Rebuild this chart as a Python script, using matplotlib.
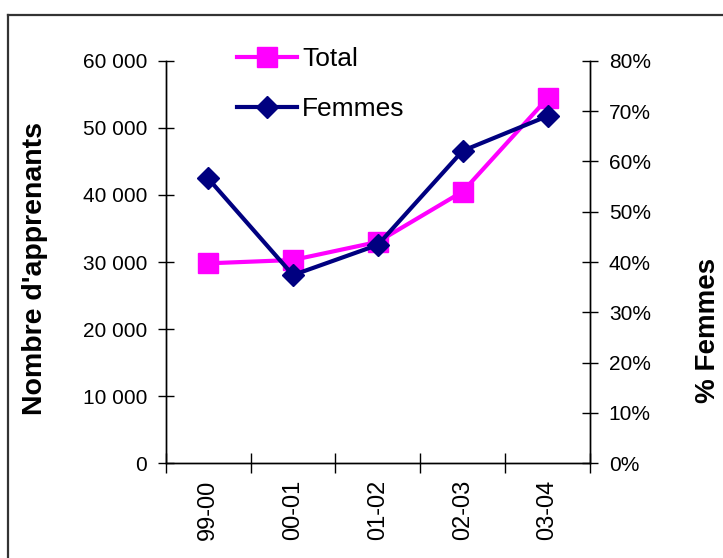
import numpy as np
import matplotlib
matplotlib.use('Agg')
from matplotlib import pyplot as plt
from matplotlib.lines import Line2D

plt.rcParams['font.family'] = ['Liberation Sans', 'DejaVu Sans']

# data
years = ['99-00', '00-01', '01-02', '02-03', '03-04']
total = [29800, 30300, 33000, 40500, 54400]
femmes_pct = [56.6, 37.4, 43.4, 62.1, 69.0]

W, H = 723, 558
fig = plt.figure(figsize=(W / 100, H / 100), dpi=100)
fig.patch.set_facecolor('white')

# axes box in pixels
x0, x1 = 165.7, 590
y0, y1 = 60.7, 463.3
ax = fig.add_axes([x0 / W, 1 - y1 / H, (x1 - x0) / W, (y1 - y0) / H])
ax2 = ax.twinx()

x = np.arange(len(years))
ax.plot(x, total, color='#FF00FF', lw=3, marker='s', ms=14.5,
        mec='#FF00FF', mfc='#FF00FF', label='Total', clip_on=False)
ax2.plot(x, femmes_pct, color='#000080', lw=3, marker='D', ms=11,
         mec='#000080', mfc='#000080', label='Femmes', clip_on=False)

ax.set_xlim(-0.5, len(years) - 0.5)
ax.set_ylim(0, 60000)
ax2.set_ylim(0, 80)

ax.set_yticks(np.arange(0, 60001, 10000))
ax.set_yticklabels(['{:,}'.format(v).replace(',', ' ') for v in range(0, 60001, 10000)])
ax2.set_yticks(np.arange(0, 81, 10))
ax2.set_yticklabels(['{}%'.format(v) for v in range(0, 81, 10)])

# ticks on category boundaries, labels at centres
ax.set_xticks(np.arange(-0.5, len(years)))
ax.set_xticklabels([])
ax.set_xticks(x, minor=True)
ax.set_xticklabels(years, minor=True, rotation=90, fontsize=17)
ax.tick_params(axis='x', which='minor', length=0, pad=12)
ax.tick_params(axis='x', which='major', direction='inout', length=14, width=1)

ax.tick_params(axis='y', direction='inout', length=11, width=1, labelsize=15, pad=8)
ax2.tick_params(axis='y', direction='inout', length=11, width=1, labelsize=15, pad=8)

for a in (ax, ax2):
    a.spines['top'].set_visible(False)
    for s in ('left', 'right', 'bottom'):
        a.spines[s].set_linewidth(1)
        a.spines[s].set_color('black')

ax.set_ylabel("Nombre d'apprenants", fontsize=20.5, fontweight='bold')
ax.yaxis.set_label_coords(48 / W, 1 - 269 / H, transform=fig.transFigure)
ax2.set_ylabel('% Femmes', fontsize=20, fontweight='bold')
ax2.yaxis.set_label_coords(695 / W, 1 - 330 / H, transform=fig.transFigure)

# legend inside the plot, no frame
h1, l1 = ax.get_legend_handles_labels()
h2, l2 = ax2.get_legend_handles_labels()
leg = ax2.legend(h1 + h2, l1 + l2, loc='upper left', frameon=False,
                 bbox_to_anchor=(237 / W, 1 - 47 / H), bbox_transform=fig.transFigure,
                 fontsize=19, handlelength=2.27, handletextpad=0.19,
                 labelspacing=1.0, borderaxespad=0, borderpad=0)

# outer border (top and left only visible)
fig.add_artist(Line2D([8 / W, 8 / W], [0, 1 - 15 / H], color='#333333', lw=1.6,
                      transform=fig.transFigure))
fig.add_artist(Line2D([8 / W, 1], [1 - 15 / H, 1 - 15 / H], color='#333333', lw=1.6,
                      transform=fig.transFigure))

fig.savefig('out.png', dpi=100, facecolor='white')
